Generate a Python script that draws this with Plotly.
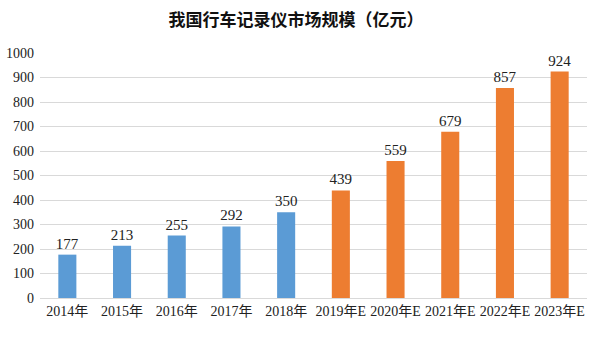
import plotly.graph_objects as go

categories = ["2014年", "2015年", "2016年", "2017年", "2018年",
              "2019年E", "2020年E", "2021年E", "2022年E", "2023年E"]
values = [177, 213, 255, 292, 350, 439, 559, 679, 857, 924]
colors = ["#5B9BD5"] * 5 + ["#ED7D31"] * 5
y_ticks = list(range(0, 1001, 100))

serif = "Liberation Serif, Times New Roman, Noto Sans CJK SC, serif"

fig = go.Figure(go.Bar(
    x=categories, y=values, marker_color=colors, marker_line_width=0,
    text=[str(v) for v in values], textposition="outside",
    textfont=dict(family=serif, size=15, color="#222"),
    constraintext="none",
    cliponaxis=False,
))

fig.update_layout(
    width=592, height=340,
    margin=dict(l=40, r=5, t=53, b=42),
    paper_bgcolor="white", plot_bgcolor="white",
    title=dict(text="<b>我国行车记录仪市场规模（亿元）</b>", x=0.5, xanchor="center",
               y=0.94, yanchor="middle",
               font=dict(family="Noto Sans CJK SC, sans-serif", size=17, color="#111")),
    bargap=0.67,
    showlegend=False,
    xaxis=dict(showgrid=False, showline=True, linecolor="#D9D9D9", linewidth=1,
               ticks="", tickfont=dict(family=serif, size=14, color="#222")),
    yaxis=dict(range=[0, 1000], tickvals=y_ticks, showgrid=True, gridcolor="#D9D9D9",
               gridwidth=1, zeroline=False, showline=False, ticks="",
               tickfont=dict(family=serif, size=14, color="#222"), ticklabelstandoff=5),
)

fig.write_html("out.html")
